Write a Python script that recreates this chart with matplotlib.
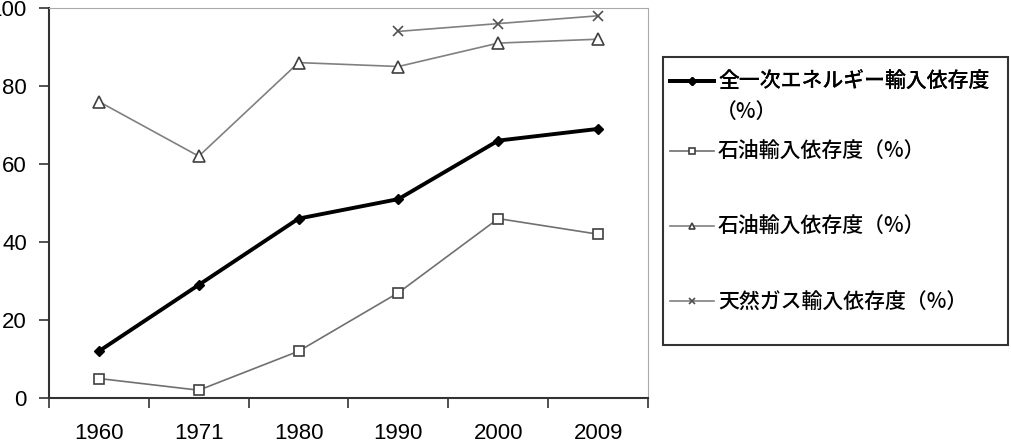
import matplotlib.pyplot as plt
from matplotlib.patches import Rectangle
import numpy as np

years = ["1960", "1971", "1980", "1990", "2000", "2009"]
total = [12, 29, 46, 51, 66, 69]
oil_sq = [5, 2, 12, 27, 46, 42]
oil_tri = [76, 62, 86, 85, 91, 92]
gas = [np.nan, np.nan, np.nan, 94, 96, 98]

label_total = "全一次エネルギー輸入依存度"
label_total_unit = "（%）"
labels_rest = ["石油輸入依存度（%）", "石油輸入依存度（%）", "天然ガス輸入依存度（%）"]

plt.rcParams['font.family'] = ['Noto Sans CJK JP', 'DejaVu Sans']
W, H = 1011, 446

fig = plt.figure(figsize=(W / 100, H / 100), dpi=100)
ax = fig.add_axes([49/W, 1-398/H, 599/W, 390/H])

x = np.arange(len(years))
h1, = ax.plot(x, total, color='black', lw=2.8, marker='D', ms=5, mfc='black', mec='black')
h2, = ax.plot(x, oil_sq, color='#707070', lw=1.2, marker='s', ms=7, mfc='white', mec='#404040', mew=1.2)
h3, = ax.plot(x, oil_tri, color='#808080', lw=1.2, marker='^', ms=8, mfc='white', mec='#404040', mew=1.2)
h4, = ax.plot(x, gas, color='#808080', lw=1.2, marker='x', ms=7, mec='#505050', mew=1.2)

ax.set_xlim(-0.5, len(years) - 0.5)
ax.set_ylim(0, 100)
ax.set_yticks([0, 20, 40, 60, 80, 100])
ax.set_xticks(np.arange(-0.5, len(years), 1.0))
ax.set_xticklabels([])
ax.set_xticks(x, minor=True)
ax.set_xticklabels(years, minor=True)
ax.tick_params(axis='x', which='minor', length=0, pad=18)
ax.tick_params(axis='x', which='major', length=7, width=1.2, color='#333333', direction='out')
ax.tick_params(axis='y', length=7, width=1.2, color='#333333', direction='out', pad=9)
for lab in ax.get_xticklabels(minor=True) + ax.get_yticklabels():
    lab.set_family('Liberation Sans')
    lab.set_fontsize(16)
ax.spines['left'].set_color('#333333')
ax.spines['left'].set_linewidth(1.5)
ax.spines['bottom'].set_color('#333333')
ax.spines['bottom'].set_linewidth(1.5)
ax.spines['top'].set_color('#aaaaaa')
ax.spines['right'].set_color('#aaaaaa')

# legend frame
fig.patches.append(Rectangle((663/W, 1-345/H), 345/W, 288/H, transform=fig.transFigure,
                             fill=False, edgecolor='#333333', lw=1.5))

leg_kw = dict(prop={'size': 15, 'weight': 'medium'}, frameon=False, handlelength=2.1,
              handletextpad=0.2, borderpad=0, borderaxespad=0)
leg1 = fig.legend([h1], [label_total], loc='center left', bbox_to_anchor=(670/W, 1-82/H), **leg_kw)
fig.text(716/W, 1-112/H, label_total_unit, fontsize=15, fontweight='medium', va='center', ha='left')
leg2 = fig.legend([h2, h3, h4], labels_rest, loc='center left', bbox_to_anchor=(670/W, 1-227/H),
                  labelspacing=2.55, **leg_kw)
fig.add_artist(leg1)
for lg in (leg1, leg2):
    for lh in lg.get_lines():
        lh.set_markersize(4)

fig.savefig('out.png', dpi=100)
